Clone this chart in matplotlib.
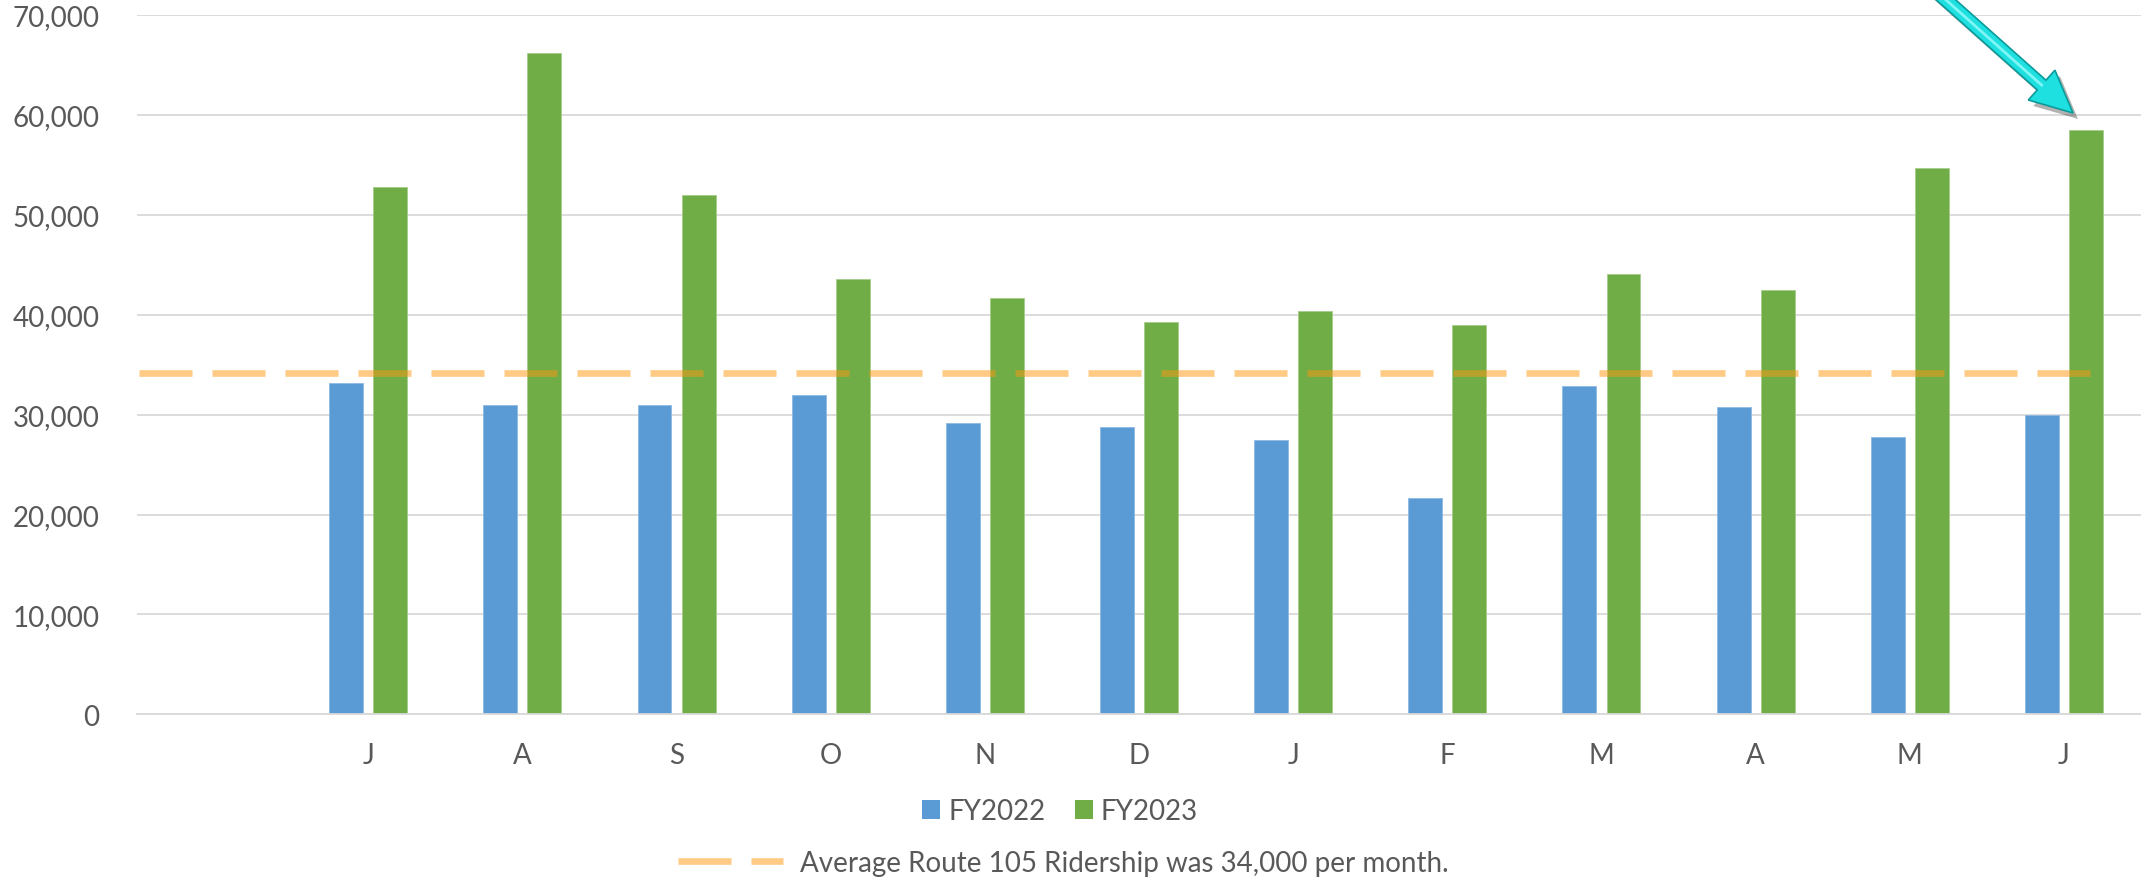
import numpy as np
import matplotlib
matplotlib.use("Agg")
import matplotlib.pyplot as plt
from matplotlib.patches import FancyArrow, Patch
from matplotlib.lines import Line2D
from matplotlib.ticker import FuncFormatter, MultipleLocator

# ---- data ----
categories = ["", "J", "A", "S", "O", "N", "D", "J", "F", "M", "A", "M", "J"]
fy2022 = [np.nan, 33210, 30970, 30940, 32000, 29200, 28760, 27430, 21610, 32840, 30770, 27730, 30000]
fy2023 = [np.nan, 52740, 66180, 51970, 43610, 41670, 39270, 40330, 38930, 44080, 42470, 54700, 58500]
average_value = 34150
series_labels = ["FY2022", "FY2023"]
avg_label = "Average Route 105 Ridership was 34,000 per month."

plt.rcParams["font.family"] = ["Lato", "DejaVu Sans"]
TXT = "#595959"
BLUE = "#5B9BD5"
GREEN = "#70AD47"
GRID = "#D9D9D9"
AVG = (1.0, 0.59, 0.06, 0.5)

W, H = 2141, 878
fig = plt.figure(figsize=(W / 100, H / 100), dpi=100)
ax = fig.add_axes([137 / W, (H - 715.3) / H, (W - 137) / W, (715.3 - 16) / H])

x = np.arange(len(categories))
bw = 0.22
off = 0.143
ax.bar(x - off, fy2022, bw, color=BLUE, edgecolor="#8DB9E3", linewidth=0.6, zorder=2)
ax.bar(x + off, fy2023, bw, color=GREEN, edgecolor="#A5CC8C", linewidth=0.6, zorder=2)

lw_px = 6.7
lw_pt = lw_px * 72 / 100
dashes = (53 / lw_px, 20 / lw_px)
ax.axhline(average_value, xmin=(139 - 137) / (W - 137), xmax=(2099 - 137) / (W - 137),
           color=AVG, linewidth=lw_pt, dashes=dashes, solid_capstyle="butt",
           dash_capstyle="butt", zorder=3)

ax.set_xlim(-0.5, len(categories) - 0.5)
ax.set_ylim(0, 70000)
ax.yaxis.set_major_locator(MultipleLocator(10000))
ax.yaxis.set_major_formatter(FuncFormatter(lambda v, p: f"{int(v):,}"))
ax.set_xticks(x)
ax.set_xticklabels(categories)
ax.grid(axis="y", color=GRID, linewidth=1.3, zorder=0)
ax.set_axisbelow(True)
for s in ["left", "right", "top"]:
    ax.spines[s].set_visible(False)
ax.spines["bottom"].set_color(GRID)
ax.spines["bottom"].set_linewidth(1.3)
ax.tick_params(axis="y", length=0, pad=27, labelsize=20, labelcolor=TXT)
ax.tick_params(axis="x", length=0, pad=20, labelsize=20, labelcolor=TXT)

# legends
h1 = [Patch(facecolor=BLUE), Patch(facecolor=GREEN)]
leg1 = fig.legend(h1, series_labels, loc="center", bbox_to_anchor=(1060 / W, 1 - 812 / H),
                  ncol=2, frameon=False, fontsize=20, labelcolor=TXT,
                  handlelength=0.65, handleheight=0.65, handletextpad=0.3,
                  columnspacing=1.05, borderpad=0, borderaxespad=0)
h2 = [Line2D([0], [0], color=AVG, linewidth=lw_pt, dashes=dashes, dash_capstyle="butt")]
leg2 = fig.legend(h2, [avg_label], loc="center", bbox_to_anchor=(1063 / W, 1 - 864 / H),
                  frameon=False, fontsize=20, labelcolor=TXT,
                  handlelength=3.8, handletextpad=0.6, borderpad=0, borderaxespad=0)

# arrow overlay (pixel coordinates, y downward)
ov = fig.add_axes([0, 0, 1, 1], zorder=10)
ov.set_xlim(0, W)
ov.set_ylim(H, 0)
ov.axis("off")
tip = (2073, 114)
start = (1900, -40)
dx, dy = tip[0] - start[0], tip[1] - start[1]
L = np.hypot(dx, dy)
ov.add_patch(FancyArrow(start[0] + 5, start[1] + 6, dx, dy, width=13, head_width=40,
                        head_length=42, length_includes_head=True,
                        facecolor=(0, 0, 0, 0.3), edgecolor="none"))
ov.add_patch(FancyArrow(start[0], start[1], dx, dy, width=13, head_width=40,
                        head_length=42, length_includes_head=True,
                        facecolor="#1FE0E0", edgecolor="#0B9A9A", linewidth=1.2))
ov.plot([start[0], tip[0] - 42 * dx / L], [start[1], tip[1] - 42 * dy / L],
        color="#7FF5F5", linewidth=2.0)

fig.savefig("out.png", dpi=100)
